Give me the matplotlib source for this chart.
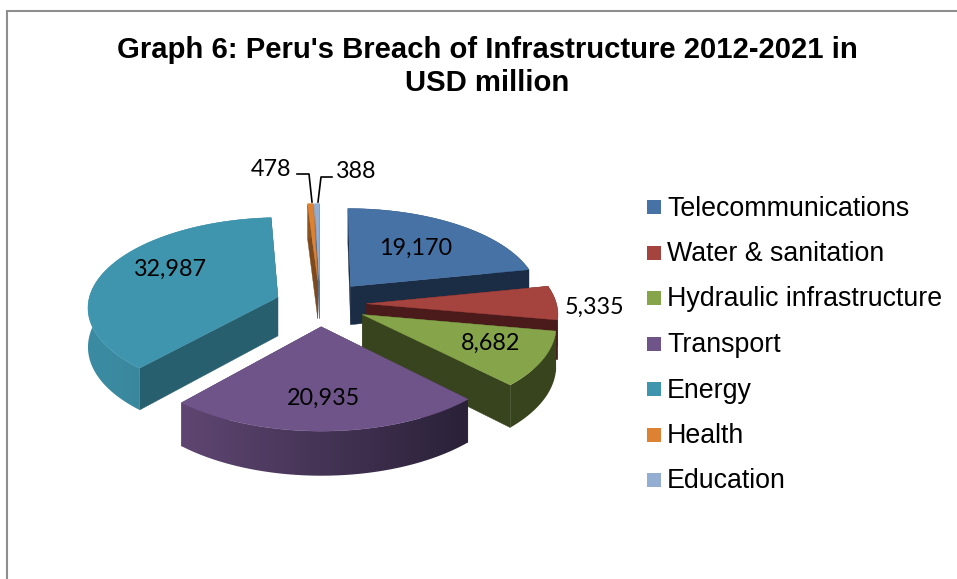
import numpy as np
import matplotlib
matplotlib.use("Agg")
import matplotlib.pyplot as plt
from matplotlib.patches import Polygon, Rectangle
from matplotlib.colors import LinearSegmentedColormap

categories = ["Telecommunications", "Water & sanitation", "Hydraulic infrastructure",
              "Transport", "Energy", "Health", "Education"]
values = [19170, 5335, 8682, 20935, 32987, 478, 388]
value_labels = ["19,170", "5,335", "8,682", "20,935", "32,987", "478", "388"]
title_lines = "Graph 6: Peru's Breach of Infrastructure 2012-2021 in\nUSD million"

face_colors = ["#4672A6", "#A5433F", "#86A44A", "#6F5489", "#3F95AE", "#DD8233", "#94AED3"]
wall_colors = ["#1B2C45", "#4A1B1A", "#38441D", "#4A3A5C", "#285F6E", "#7C4A1E", "#5B6F8A"]
side_left = ["#1B2C45", "#4A1B1A", "#38441D", "#5F4672", "#3B8CA3", "#8A5522", "#6B80A0"]
side_right = ["#1B2C45", "#4A1B1A", "#38441D", "#2A2138", "#357C8F", "#8A5522", "#6B80A0"]
explode = [0.26, 0.245, 0.25, 0.25, 0.236, 0.27, 0.27]
draw_order = [6, 5, 4, 0, 1, 2, 3]
label_xy = [(416, 248), (595, 307), (491, 343), (324, 398), (170, 269), (271, 170), (356, 171)]

CX, CY, RX, RY, PERSP, DEPTH = 320.0, 304.0, 190.0, 89.0, 0.10, 39.0

fig = plt.figure(figsize=(9.57, 5.79), dpi=100)
ax = fig.add_axes([0, 0, 1, 1])
ax.axis("off")


def project(u, v, z=0.0):
    s = 1.0 / (1.0 + PERSP * v)
    return CX + u * RX * s, CY - v * RY * s + z * s


fractions = np.array(values) / sum(values)
edges = np.concatenate([[0], np.cumsum(fractions)]) * 2 * np.pi
z = 1.0

for i in draw_order:
    t0, t1 = edges[i], edges[i + 1]
    mid = (t0 + t1) / 2
    ou, ov = explode[i] * np.sin(mid), explode[i] * np.cos(mid)
    th = np.linspace(t0, t1, 120)
    au, av = ou + np.sin(th), ov + np.cos(th)

    # radial inner walls
    for t in (t1, t0):
        eu, ev = ou + np.sin(t), ov + np.cos(t)
        quad = [project(ou, ov), project(eu, ev), project(eu, ev, DEPTH), project(ou, ov, DEPTH)]
        ax.add_patch(Polygon(quad, closed=True, fc=wall_colors[i], ec=wall_colors[i], lw=0.3, zorder=z))
        z += 1

    # outer curved wall, shaded across its width
    tx, ty = project(au, av)
    bx, by = project(au, av, DEPTH)
    wall = Polygon(np.c_[np.r_[tx, bx[::-1]], np.r_[ty, by[::-1]]], closed=True,
                   fc="none", ec="none", transform=ax.transData)
    ax.add_patch(wall)
    cmap = LinearSegmentedColormap.from_list("side", [side_left[i], side_right[i]])
    im = ax.imshow(np.linspace(0, 1, 256).reshape(1, -1), cmap=cmap, aspect="auto",
                   extent=(tx.min(), tx.max(), by.max(), ty.min()), zorder=z, interpolation="bilinear")
    im.set_clip_path(wall)
    z += 1

    # top face
    px, py = project(np.r_[ou, au], np.r_[ov, av])
    ax.add_patch(Polygon(np.c_[px, py], closed=True, fc=face_colors[i], ec=face_colors[i], lw=0.3, zorder=z))
    z += 1

# value labels
for txt, (x, y) in zip(value_labels, label_xy):
    ax.text(x, y, txt, ha="center", va="center", fontsize=16.8, family="Lato", color="black", zorder=z)

# leader lines
ax.plot([297, 309, 312], [174, 174, 202], color="black", lw=1.2, zorder=z)
ax.plot([332, 321, 318], [177, 177, 202], color="black", lw=1.2, zorder=z)

# legend
for row, (name, col) in enumerate(zip(categories, face_colors)):
    y = 207 + row * 45.5
    ax.add_patch(Rectangle((647, y - 7), 14, 14, fc=col, ec="none", zorder=z))
    ax.text(667, y + 1.5, name, ha="left", va="center", fontsize=19.3, family="Liberation Sans",
            color="black", zorder=z)

# title
ax.text(487.5, 66.5, title_lines, ha="center", va="center", fontsize=21.1, fontweight="bold",
        family="Liberation Sans", color="black", linespacing=1.27, zorder=z)

# chart frame (runs off the right and bottom of the crop)
ax.plot([7, 7, 957], [579, 10.5, 10.5], color="#8E8E8E", lw=1.5, solid_joinstyle="miter", zorder=z)

ax.set_xlim(0, 957)
ax.set_ylim(579, 0)
fig.savefig("out.png", dpi=100)
